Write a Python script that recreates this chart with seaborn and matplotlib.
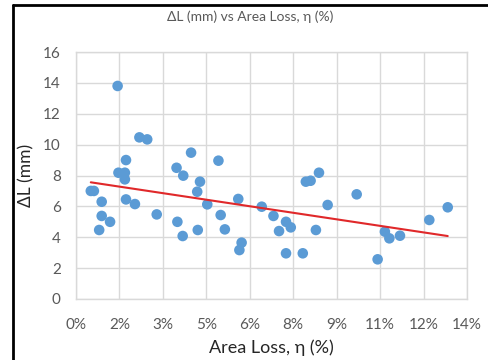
import numpy as np
import pandas as pd
import matplotlib
matplotlib.use("Agg")
import matplotlib.pyplot as plt
from matplotlib.lines import Line2D
from matplotlib.ticker import PercentFormatter
import seaborn as sns

# Area loss (%) and elongation change (mm)
area_loss = [0.53, 0.64, 0.92, 0.92, 1.22, 0.83, 1.49, 1.52, 1.75, 1.75,
             1.79, 1.79, 2.11, 2.27, 2.55, 2.89, 3.60, 3.84, 4.12, 4.44,
             4.34, 4.70, 3.63, 3.82, 4.36, 5.10, 5.81, 5.18, 5.33, 5.93,
             5.85, 6.65, 7.07, 7.27, 7.52, 7.69, 7.52, 8.12, 8.23, 8.40,
             8.70, 8.59, 9.01, 10.05, 11.06, 11.22, 11.60, 10.80, 12.65, 13.31]
delta_l = [7.00, 7.00, 6.30, 5.38, 5.00, 4.47, 13.80, 8.18, 8.18, 7.75,
           9.00, 6.45, 6.15, 10.47, 10.34, 5.48, 8.50, 7.99, 9.48, 7.60,
           6.95, 6.13, 5.00, 4.08, 4.47, 8.96, 6.48, 5.44, 4.51, 3.65,
           3.17, 5.98, 5.38, 4.40, 5.00, 4.64, 2.96, 2.96, 7.60, 7.66,
           8.18, 4.47, 6.09, 6.78, 4.36, 3.93, 4.10, 2.57, 5.12, 5.94]

x_ticks = np.linspace(0, 14, 10)
y_ticks = [0, 2, 4, 6, 8, 10, 12, 14, 16]

TITLE = "ΔL (mm) vs Area Loss, η (%)"
XLABEL = "Area Loss, η (%)"
YLABEL = "ΔL (mm)"

BLUE = "#5B9BD5"
RED = "#E0282A"
GRID = "#D9D9D9"
TICK_COL = "#595959"

df = pd.DataFrame({"area_loss": area_loss, "delta_l": delta_l})

sns.set_style("white")
plt.rcParams["font.family"] = ["Lato", "DejaVu Sans"]

fig = plt.figure(figsize=(4.88, 3.6), dpi=100)
ax = fig.add_axes([76 / 488, 1 - 299 / 360, (467 - 76) / 488, (299 - 52) / 360])

sns.scatterplot(data=df, x="area_loss", y="delta_l", ax=ax, color=BLUE,
                s=58, edgecolor="none", zorder=3)
sns.regplot(data=df, x="area_loss", y="delta_l", ax=ax, scatter=False,
            ci=None, line_kws={"color": RED, "lw": 1.5, "zorder": 4})

ax.set_xlim(0, 14)
ax.set_ylim(0, 16)
ax.set_xticks(x_ticks)
ax.set_yticks(y_ticks)
ax.xaxis.set_major_formatter(PercentFormatter(xmax=100, decimals=0))
ax.grid(True, color=GRID, lw=1)
ax.set_axisbelow(True)
ax.tick_params(length=0, labelsize=11, labelcolor=TICK_COL)
ax.tick_params(axis="x", pad=14)
ax.tick_params(axis="y", pad=11)
for sp in ax.spines.values():
    sp.set_color(GRID)
    sp.set_linewidth(1)

ax.set_xlabel(XLABEL, fontsize=13, color="#262626", labelpad=5)
ax.set_ylabel(YLABEL, fontsize=12.5, color="#262626", labelpad=6)

fig.text(250 / 488, 1 - 17 / 360, TITLE, ha="center", va="center",
         fontsize=10, color=TICK_COL)

# outer chart border (left and top edges visible)
fig.add_artist(Line2D([13 / 488, 13 / 488], [0, 1 - 5 / 360],
                      transform=fig.transFigure, color="black", lw=2))
fig.add_artist(Line2D([13 / 488, 1], [1 - 5 / 360, 1 - 5 / 360],
                      transform=fig.transFigure, color="black", lw=2))

fig.savefig("out.png", dpi=100)
